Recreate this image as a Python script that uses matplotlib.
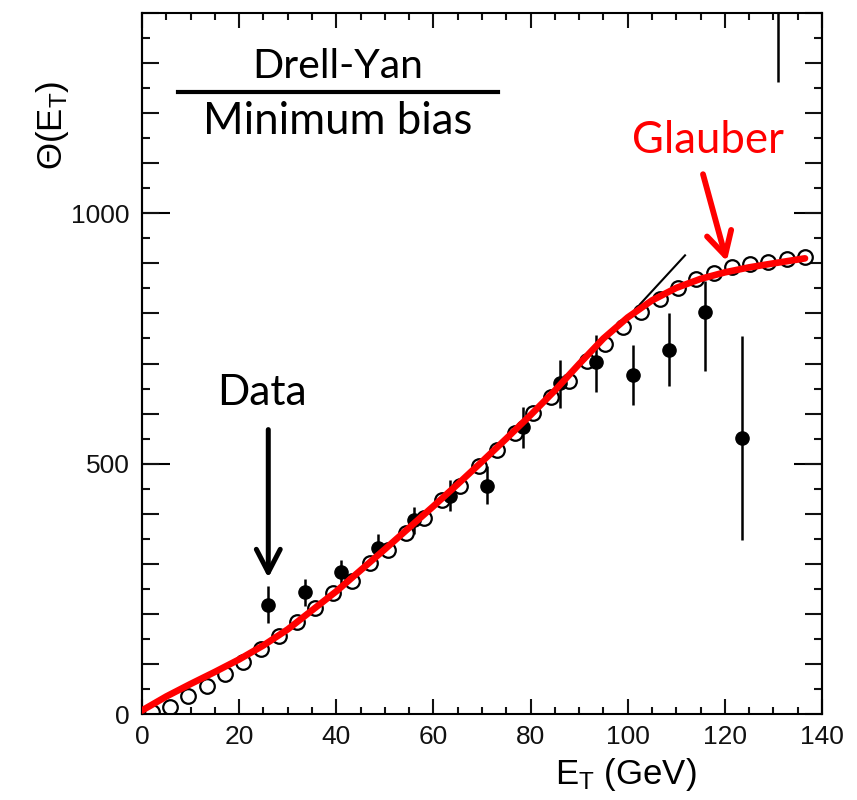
import matplotlib
matplotlib.use("Agg")
import matplotlib.pyplot as plt
from matplotlib.ticker import MultipleLocator, FixedLocator, FuncFormatter

plt.rcParams["font.family"] = ["Liberation Sans", "DejaVu Sans"]
plt.rcParams["mathtext.fontset"] = "custom"
plt.rcParams["mathtext.rm"] = "Liberation Sans"
plt.rcParams["mathtext.it"] = "Liberation Sans"

# Measured Drell-Yan / minimum-bias ratio (filled points with error bars)
et_data = [26, 33.5, 41, 48.5, 56, 63.5, 71, 78.5, 86, 93.5, 101, 108.5, 116, 123.5]
theta_data = [217, 244, 283, 332, 388, 435, 455, 574, 661, 702, 677, 727, 803, 551]
theta_lo = [181, 215, 255, 315, 360, 405, 420, 531, 611, 644, 618, 655, 686, 347]
theta_hi = [255, 269, 307, 359, 414, 468, 495, 614, 707, 757, 737, 800, 865, 754]

# Error bar of the off-scale point near the top
et_offscale = 131
theta_offscale_lo = 1262
theta_offscale_hi = 1400

# Calculated points (open circles)
et_calc = [2.0, 5.8, 9.5, 13.3, 17.0, 20.8, 24.5, 28.2, 32.0, 35.7, 39.4, 43.2,
           46.9, 50.6, 54.4, 58.1, 61.8, 65.5, 69.3, 73.0, 76.7, 80.5, 84.2,
           87.9, 91.7, 95.4, 99.1, 102.8, 106.6, 110.3, 114.0, 117.7, 121.5,
           125.2, 128.9, 132.7, 136.4]
theta_calc = [3, 13, 36, 55, 80, 103, 129, 156, 183, 211, 242, 266, 301, 327,
              362, 392, 428, 455, 495, 528, 561, 601, 633, 666, 705, 739, 773,
              803, 828, 851, 869, 881, 892, 899, 903, 908, 912]

# Glauber curve
et_glauber = [0, 5, 10, 15, 20, 25, 30, 35, 40, 45, 50, 55, 60, 65, 70, 75,
              80, 85, 90, 95, 100, 105, 110, 115, 120, 125, 130, 136.5]
theta_glauber = [7, 35, 60, 84, 109, 137, 169, 207, 245, 287, 329, 372, 415,
                 459, 504, 550, 597, 646, 699, 750, 792, 826, 851, 869, 882,
                 892, 900, 910]

# Straight-line extrapolation segment
et_linear = [102.5, 111.8]
theta_linear = [818, 916]

x_ticks = [0, 20, 40, 60, 80, 100, 120, 140]
y_labels = [0, 500, 1000]

fig = plt.figure(figsize=(8.57, 8.0), dpi=100)
ax = fig.add_axes([142 / 857, 1 - 714 / 800, 680 / 857, 701 / 800])

ax.plot(et_calc, theta_calc, "o", ms=10.5, mfc="white", mec="black", mew=1.6,
        zorder=2)
yerr = [[v - lo for v, lo in zip(theta_data, theta_lo)],
        [hi - v for v, hi in zip(theta_data, theta_hi)]]
ax.errorbar(et_data, theta_data, yerr=yerr, fmt="o", ms=9.5, color="black",
            elinewidth=1.8, capsize=0, zorder=3)
ax.vlines(et_offscale, theta_offscale_lo, theta_offscale_hi, color="black",
          lw=1.8, zorder=3)
ax.plot(et_linear, theta_linear, color="black", lw=1.5, zorder=2)
ax.plot(et_glauber, theta_glauber, color="#ff0000", lw=4.8,
        solid_capstyle="round", solid_joinstyle="round", zorder=4)

ax.set_xlim(0, 140)
ax.set_ylim(0, 1400)

# Ticks: inward on all four sides
ax.xaxis.set_major_locator(FixedLocator(x_ticks))
ax.xaxis.set_minor_locator(MultipleLocator(5))
ax.yaxis.set_major_locator(MultipleLocator(100))
ax.yaxis.set_minor_locator(MultipleLocator(50))
ax.yaxis.set_major_formatter(
    FuncFormatter(lambda v, p: f"{int(v)}" if int(round(v)) in y_labels else ""))
ax.tick_params(which="both", direction="in", top=True, right=True,
               width=1.5, colors="#111111")
ax.tick_params(axis="x", which="major", length=11, labelsize=19, pad=8)
ax.tick_params(axis="x", which="minor", length=5)
ax.tick_params(axis="y", which="major", length=12, labelsize=19, pad=9)
ax.tick_params(axis="y", which="minor", length=6)
for side in ("left", "right"):
    sec = ax.secondary_yaxis(side)
    sec.set_yticks([500, 1000])
    sec.tick_params(direction="in", length=20, width=1.5,
                    labelleft=False, labelright=False)
    sec.spines[side].set_linewidth(1.5)
for sp in ax.spines.values():
    sp.set_linewidth(1.5)

ax.set_xlabel(r"$\mathregular{E_T}$ (GeV)", fontsize=25, va="center")
ax.xaxis.set_label_coords(0.712, -0.087)
ax.set_ylabel(r"$\mathregular{Θ(E_T)}$", fontsize=25, va="center")
ax.yaxis.set_label_coords(-0.132, 0.84)

# Ratio title
fig.text(338 / 857, 1 - 78 / 800, "Drell-Yan", family="Lato", fontsize=29.5,
         ha="center", va="baseline")
ax.plot([0.053, 0.5235], [0.887, 0.887], color="black", lw=3,
        transform=ax.transAxes, clip_on=False)
fig.text(338 / 857, 1 - 134 / 800, "Minimum bias", family="Lato", fontsize=31.5,
         ha="center", va="baseline")

# Annotations
fig.text(262 / 857, 1 - 405 / 800, "Data", family="Lato", fontsize=30.5,
         ha="center", va="baseline")
ax.annotate("", xy=(26.0, 272), xytext=(26.0, 568),
            arrowprops=dict(arrowstyle="->,head_length=0.83,head_width=0.43",
                            lw=3.6, color="black", mutation_scale=20,
                            shrinkA=0, shrinkB=0))
fig.text(708 / 857, 1 - 153 / 800, "Glauber", family="Lato", fontsize=31.5,
         color="#ff0000", ha="center", va="baseline")
ax.annotate("", xy=(120.4, 904), xytext=(115.5, 1078),
            arrowprops=dict(arrowstyle="->,head_length=0.83,head_width=0.45",
                            lw=4.2, color="#ff0000", mutation_scale=20,
                            shrinkA=0, shrinkB=0))

fig.savefig("out.png", dpi=100)
